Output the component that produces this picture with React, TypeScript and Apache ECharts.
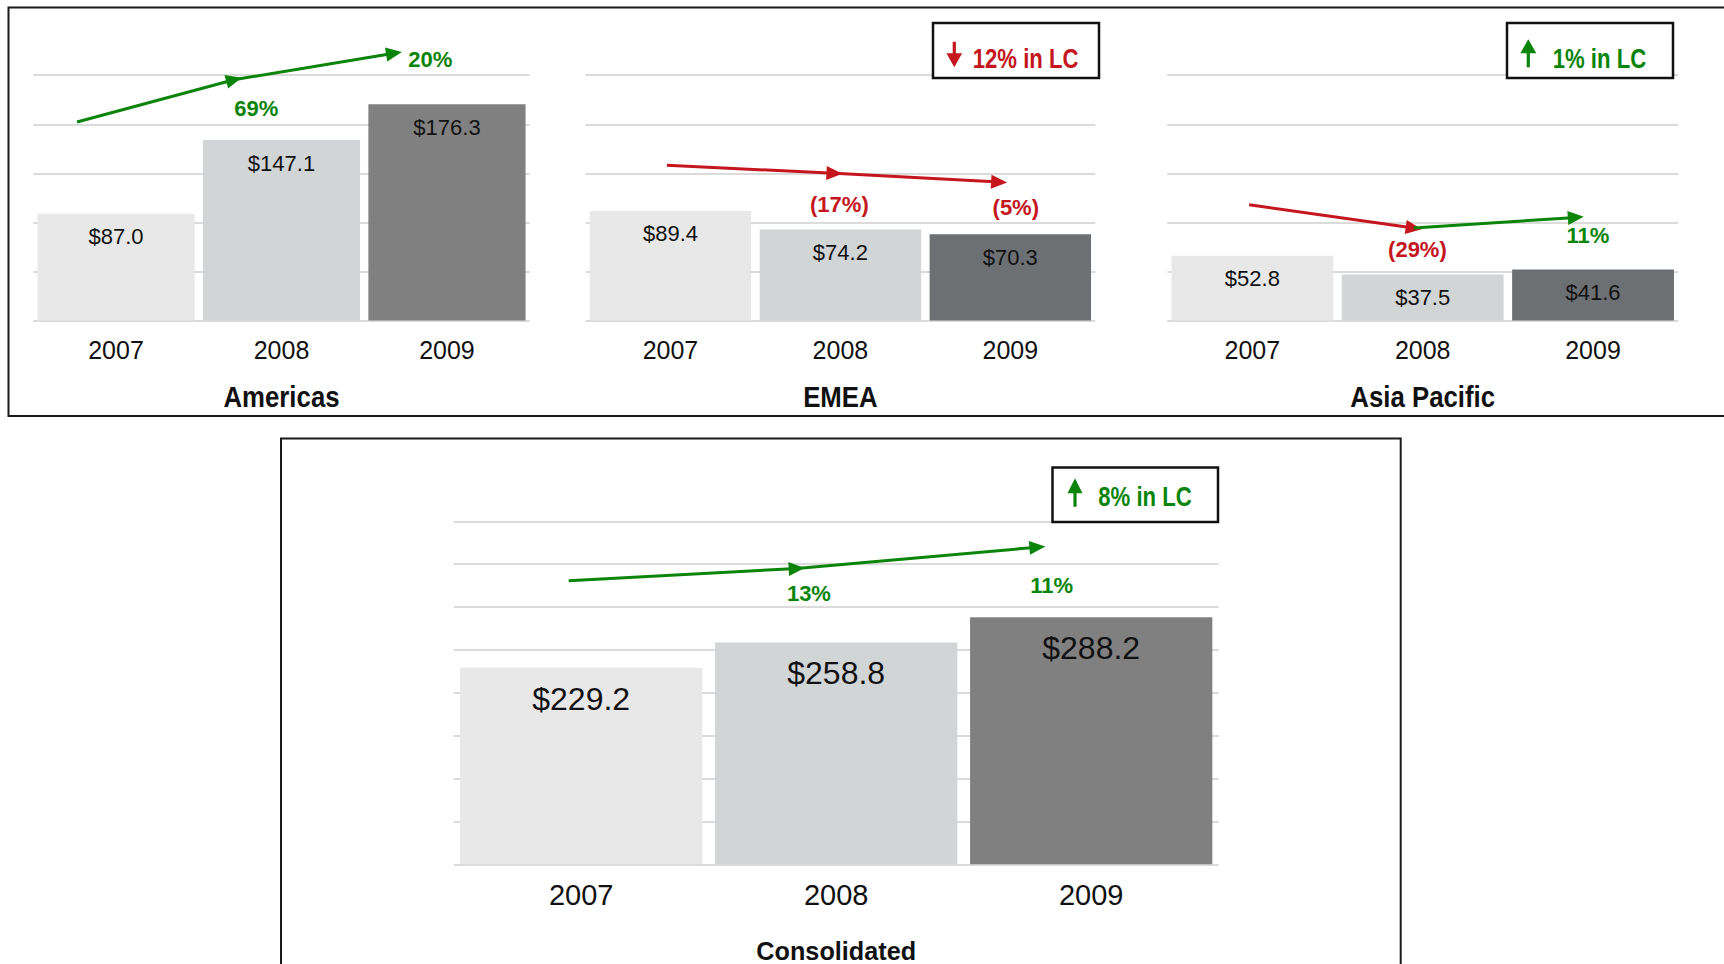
import React, { useEffect, useRef } from "react";
import * as echarts from "echarts";

// ---------- data ----------
const years = ["2007", "2008", "2009"];
const americas = [87.0, 147.1, 176.3];
const emea = [89.4, 74.2, 70.3];
const asiaPacific = [52.8, 37.5, 41.6];
const consolidated = [229.2, 258.8, 288.2];

const regionTitles = ["Americas", "EMEA", "Asia Pacific", "Consolidated"];

const americasGrowth = ["69%", "20%"];
const emeaGrowth = ["(17%)", "(5%)"];
const asiaGrowth = ["(29%)", "11%"];
const consolidatedGrowth = ["13%", "11%"];

const lcNotes = ["12% in LC", "1% in LC", "8% in LC"];

// trend arrows, in (category position 0..3, value) units
const americasTrend = [[0.264, 161.9], [1.213, 196.3], [2.18, 217.9]];
const emeaTrend = [[0.479, 126.7], [1.465, 120.0], [2.434, 112.9]];
const asiaTrend = [[0.481, 94.4], [1.447, 75.4], [2.399, 84.1]];
const consolidatedTrend = [[0.451, 330.6], [1.345, 345.0], [2.289, 369.8]];

// growth label anchors, same units
const americasGrowthAt = [[1.348, 173.1], [2.399, 212.5]];
const emeaGrowthAt = [[1.494, 94.9], [2.532, 92.3]];
const asiaGrowthAt = [[1.469, 58.0], [2.47, 69.7]];
const consolidatedGrowthAt = [[1.393, 316.1], [2.345, 325.0]];

// ---------- styles ----------
const GREEN = "#0a850a";
const RED = "#c4161c";
const SANS = "'Liberation Sans', Arial, sans-serif";
const GRIDLINE = "#cfcfcf";

const isDecline = (s: string) => s.trim().startsWith("(");

const panels = [
  {
    title: regionTitles[0], values: americas, growth: americasGrowth, growthAt: americasGrowthAt, trend: americasTrend,
    colors: ["#e8e8e8", "#d1d5d6", "#808080"],
    grid: { left: 33.3, top: 26.1, width: 496.4, height: 294.5 }, max: 240, interval: 40, showMax: false,
    valueFont: 22, valueDist: 12, yearFont: 25, yearMargin: 17,
    titleFont: 30, titleScale: 0.86, titleY: 397, growthFont: 22,
  },
  {
    title: regionTitles[1], values: emea, growth: emeaGrowth, growthAt: emeaGrowthAt, trend: emeaTrend,
    colors: ["#e8e8e8", "#d1d5d6", "#6d7073"],
    grid: { left: 585.5, top: 26.1, width: 509.8, height: 294.5 }, max: 240, interval: 40, showMax: false,
    valueFont: 22, valueDist: 12, yearFont: 25, yearMargin: 17,
    titleFont: 30, titleScale: 0.86, titleY: 397, growthFont: 22,
  },
  {
    title: regionTitles[2], values: asiaPacific, growth: asiaGrowth, growthAt: asiaGrowthAt, trend: asiaTrend,
    colors: ["#e8e8e8", "#d1d5d6", "#6d7073"],
    grid: { left: 1167.2, top: 26.1, width: 511, height: 294.5 }, max: 240, interval: 40, showMax: false,
    valueFont: 22, valueDist: 12, yearFont: 25, yearMargin: 17,
    titleFont: 30, titleScale: 0.86, titleY: 397, growthFont: 22,
  },
  {
    title: regionTitles[3], values: consolidated, growth: consolidatedGrowth, growthAt: consolidatedGrowthAt, trend: consolidatedTrend,
    colors: ["#e8e8e8", "#d1d5d6", "#808080"],
    grid: { left: 453.7, top: 521.3, width: 765, height: 343 }, max: 400, interval: 50, showMax: true,
    valueFont: 32, valueDist: 15, yearFont: 29, yearMargin: 16,
    titleFont: 26, titleScale: 0.97, titleY: 950.7, growthFont: 22,
  },
];

function lcBox(
  box: { x: number; y: number; w: number; h: number },
  arrow: { x: number; tip: number; tail: number; head: number; half: number; up: boolean },
  text: string,
  textPos: { x: number; y: number },
  color: string
) {
  const s = 1.6;
  const dir = arrow.up ? 1 : -1;
  const hb = arrow.tip + dir * arrow.head;
  const points = [
    [arrow.x, arrow.tip],
    [arrow.x + arrow.half, hb],
    [arrow.x + s, hb],
    [arrow.x + s, arrow.tail],
    [arrow.x - s, arrow.tail],
    [arrow.x - s, hb],
    [arrow.x - arrow.half, hb],
  ];
  return [
    {
      type: "rect", z: 20,
      shape: { x: box.x, y: box.y, width: box.w, height: box.h },
      style: { fill: "#ffffff", stroke: "#111111", lineWidth: 2.5 },
    },
    { type: "polygon", z: 21, shape: { points }, style: { fill: color } },
    {
      type: "text", z: 21, x: textPos.x, y: textPos.y, scaleX: 0.82,
      style: {
        text, fill: color, fontSize: 27, fontWeight: "bold", fontFamily: SANS,
        align: "left", verticalAlign: "middle", textAlign: "left", textVerticalAlign: "middle",
      },
    },
  ];
}

function buildOption() {
  const grid: any[] = [];
  const xAxis: any[] = [];
  const yAxis: any[] = [];
  const series: any[] = [];
  const titles: any[] = [];

  panels.forEach((p, i) => {
    grid.push({ ...p.grid, containLabel: false });
    xAxis.push({
      type: "category", gridIndex: i, data: years,
      axisLine: { show: false }, axisTick: { show: false },
      axisLabel: { fontSize: p.yearFont, fontFamily: SANS, color: "#111", margin: p.yearMargin },
    });
    xAxis.push({
      type: "value", gridIndex: i, min: 0, max: 3, show: false,
      splitLine: { show: false },
    });
    yAxis.push({
      type: "value", gridIndex: i, min: 0, max: p.max, interval: p.interval,
      axisLabel: { show: false }, axisLine: { show: false }, axisTick: { show: false },
      splitLine: { show: true, showMaxLine: p.showMax, lineStyle: { color: GRIDLINE, width: 1.5 } },
    });
    series.push({
      type: "bar", xAxisIndex: 2 * i, yAxisIndex: i,
      barCategoryGap: "5%",
      data: p.values.map((v, j) => ({ value: v, itemStyle: { color: p.colors[j] } })),
      label: {
        show: true, position: "insideTop", distance: p.valueDist,
        formatter: (d: any) => "$" + Number(d.value).toFixed(1),
        fontSize: p.valueFont, fontFamily: SANS, color: "#111",
      },
      emphasis: { disabled: true },
    });
    const segs = p.trend.slice(1).map((pt, k) => [
      { coord: p.trend[k], lineStyle: { color: isDecline(p.growth[k]) ? RED : GREEN } },
      { coord: pt },
    ]);
    series.push({
      type: "scatter", xAxisIndex: 2 * i + 1, yAxisIndex: i,
      symbolSize: 0, silent: true,
      itemStyle: { opacity: 1 },
      data: p.growthAt.map((pos, k) => ({
        value: pos, name: p.growth[k],
        label: { color: isDecline(p.growth[k]) ? RED : GREEN },
      })),
      label: {
        show: true, position: "inside", formatter: "{b}",
        fontSize: p.growthFont, fontFamily: SANS, fontWeight: "bold", opacity: 1,
      },
      markLine: {
        silent: true, animation: false,
        symbol: ["none", "triangle"], symbolSize: [14, 16],
        lineStyle: { width: 3, type: "solid", opacity: 1 },
        label: { show: false },
        emphasis: { disabled: true },
        data: segs,
      },
    });
    titles.push({
      type: "text", z: 10,
      x: p.grid.left + p.grid.width / 2, y: p.titleY, scaleX: p.titleScale,
      style: {
        text: p.title, fill: "#111", fontSize: p.titleFont, fontWeight: "bold", fontFamily: SANS,
        align: "center", verticalAlign: "middle", textAlign: "center", textVerticalAlign: "middle",
      },
    });
  });

  const graphic: any[] = [
    {
      type: "rect", z: 5,
      shape: { x: 8.5, y: 7.5, width: 1730, height: 408.5 },
      style: { fill: "none", stroke: "#1a1a1a", lineWidth: 2 },
    },
    {
      type: "rect", z: 5,
      shape: { x: 281, y: 438.5, width: 1119.7, height: 600 },
      style: { fill: "none", stroke: "#1a1a1a", lineWidth: 2 },
    },
    ...titles,
    ...lcBox({ x: 933, y: 23, w: 166, h: 55 }, { x: 954.3, tip: 67.3, tail: 41.7, head: 14, half: 7.8, up: false },
      lcNotes[0], { x: 972.7, y: 59 }, RED),
    ...lcBox({ x: 1507, y: 23, w: 166, h: 55 }, { x: 1528.3, tip: 39.3, tail: 67.3, head: 14, half: 8, up: true },
      lcNotes[1], { x: 1552.7, y: 59 }, GREEN),
    ...lcBox({ x: 1052.5, y: 467.5, w: 165.5, h: 54.5 }, { x: 1075, tip: 478.3, tail: 506.7, head: 15, half: 7.5, up: true },
      lcNotes[2], { x: 1098.3, y: 496.7 }, GREEN),
  ];

  return {
    animation: false,
    backgroundColor: "#ffffff",
    grid, xAxis, yAxis, series, graphic,
  };
}

export default function App() {
  const ref = useRef<HTMLDivElement>(null);
  useEffect(() => {
    if (!ref.current) return;
    const chart = echarts.init(ref.current, undefined, { renderer: "svg" });
    chart.setOption(buildOption() as any);
    return () => chart.dispose();
  }, []);
  return (
    <div
      ref={ref}
      style={{ position: "absolute", left: 0, top: 0, width: 1724, height: 964, background: "#fff" }}
    />
  );
}
